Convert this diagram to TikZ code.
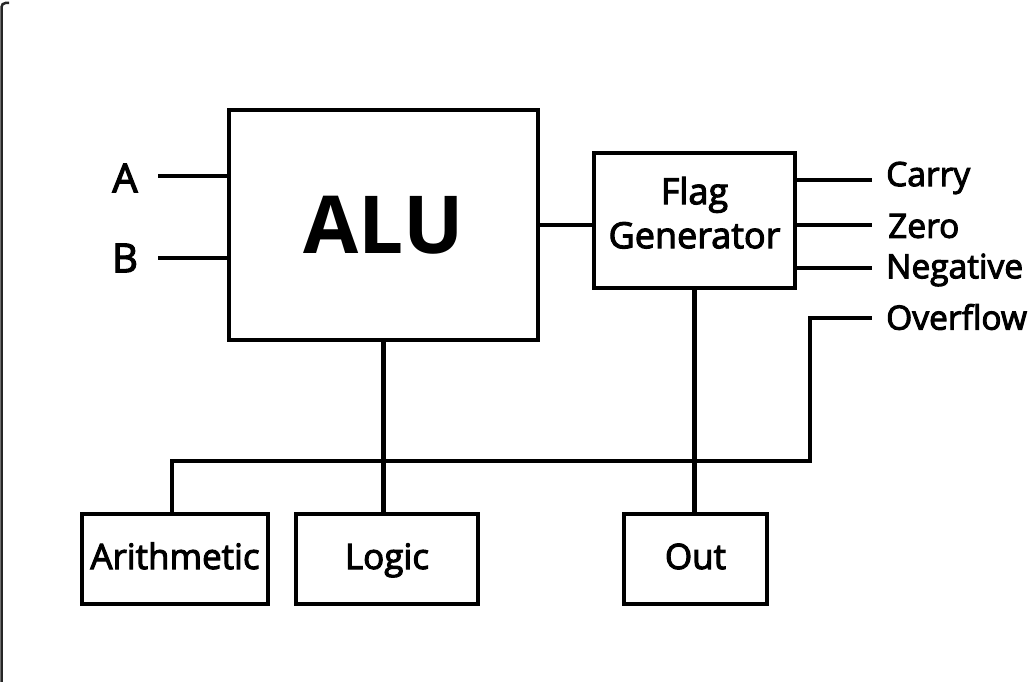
\documentclass[tikz,border=0pt]{standalone}
\usepackage{fontspec}
\setmainfont{Open Sans}
\newfontface\medfont{Open Sans}[FakeBold=3]
\begin{document}
\begin{tikzpicture}[x=1pt,y=-1pt,
  box/.style={draw,line width=4.5pt,inner sep=0pt,align=center},
  wire/.style={line width=4.5pt},
  lbl/.style={font=\medfont\fontsize{33.5}{38}\selectfont,inner sep=0pt},
  io/.style={font=\medfont\fontsize{40}{44}\selectfont,inner sep=0pt},
  boxtxt/.style={font=\medfont\fontsize{35}{44}\selectfont}]
\useasboundingbox (0,0) rectangle (1033,682);
\draw[line width=2.5pt,black!85,rounded corners=4pt] (1.5,682) -- (1.5,3) -- (9,3);
% main blocks
\node[box,minimum width=309pt,minimum height=230pt,font=\fontsize{80}{86}\selectfont\bfseries] (alu) at (383.5,225) {ALU};
\node[box,boxtxt,minimum width=201pt,minimum height=135pt,font=\medfont\fontsize{36}{44}\selectfont,text depth=16pt] (flag) at (694.5,220.5) {Flag\\Generator};
\node[box,boxtxt,minimum width=186pt,minimum height=90pt,text height=27pt,text depth=7pt] (arith) at (175,559) {Arithmetic};
\node[box,boxtxt,minimum width=182pt,minimum height=90pt,text height=27pt,text depth=7pt] (logic) at (387,559) {Logic};
\node[box,boxtxt,minimum width=143pt,minimum height=90pt,text height=27pt,text depth=7pt] (out) at (695.5,559) {Out};
% inputs
\node[io] (a) at (125,178) {A};
\node[io] (b) at (125,258) {B};
\coordinate (aS) at (158,176);
\coordinate (bS) at (158,258);
\draw[wire] (aS) -- (aS -| alu.west);
\draw[wire] (bS) -- (bS -| alu.west);
% alu to flag
\draw[wire] (alu.east |- 0,225) -- (flag.west |- 0,225);
% outputs
\node[lbl,anchor=west] (carry) at (886,178) {Carry};
\node[lbl,anchor=west] (zero) at (888,226) {Zero};
\node[lbl,anchor=west] (neg) at (886,270) {Negative};
\node[lbl,anchor=west] (ovf) at (886,317) {Overflow};
\coordinate (cE) at (872,180);
\coordinate (zE) at (872,225);
\coordinate (nE) at (872,268);
\coordinate (oE) at (872,318);
\draw[wire] (flag.east |- cE) -- (cE);
\draw[wire] (flag.east |- zE) -- (zE);
\draw[wire] (flag.east |- nE) -- (nE);
% bus
\coordinate (busL) at (172,461);
\coordinate (busR) at (810,461);
\coordinate (ovfC) at (810,318);
\draw[wire] (arith.north -| busL) -- (busL) -- (busR) -- (ovfC) -- (oE);
\draw[wire] (alu.south) -- (alu.south |- logic.north);
\draw[wire] (flag.south) -- (flag.south |- out.north);
\end{tikzpicture}
\end{document}
